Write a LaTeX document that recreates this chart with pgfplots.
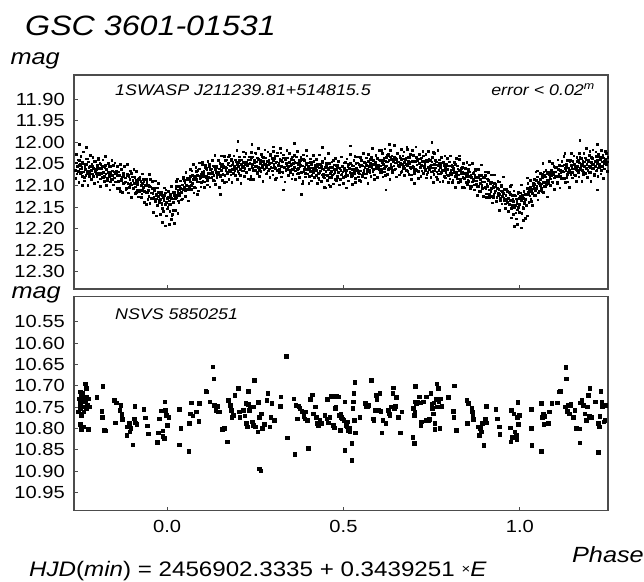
\documentclass[border=0pt]{standalone}
\usepackage{pgfplots}
\pgfplotsset{compat=1.18}
\usepackage{fontspec}
\setmainfont{Liberation Sans}[FakeStretch=1.15]

\newcommand{\fs}[1]{\fontsize{#1}{#1}\selectfont}

\pgfplotsset{
  lc/.style={
    scale only axis, width=534pt, height=214pt,
    xmin=-0.264, xmax=1.25,
    y dir=reverse,
    axis line style={black!70, line width=1.1pt},
    tick style={black!70, line width=0.8pt},
    tick align=inside, major tick length=4pt,
    xtick pos=bottom, ytick pos=left,
    xtick={0,0.5,1},
    /pgf/number format/assume math mode=true,
    yticklabel style={font=\fs{17.5}, inner sep=0pt, xshift=-9pt,
      /pgf/number format/.cd, fixed, fixed zerofill, precision=2},
    xticklabel style={font=\fs{17.5}, inner sep=0pt, yshift=-9pt,
      /pgf/number format/.cd, fixed, fixed zerofill, precision=1},
  }
}

\begin{document}
\begin{tikzpicture}
\path[use as bounding box] (0,0) rectangle (644pt,-581pt);

% ---- 1SWASP light curve ----
\begin{axis}[lc, at={(74pt,-75pt)}, anchor=north west,
  ymin=11.844, ymax=12.340,
  ytick={11.90,11.95,12.00,12.05,12.10,12.15,12.20,12.25,12.30},
  xticklabels={}]
% first half of the points
\addplot[only marks, mark=square*, mark size=0.85pt, black] coordinates {
(-0.260,12.064) (-0.258,12.047) (-0.256,12.073) (-0.254,12.056) (-0.252,12.067) (-0.250,12.041) (-0.248,12.061) (-0.246,12.051) (-0.244,12.070) (-0.242,12.058)
(-0.240,12.046) (-0.238,12.068) (-0.236,12.081) (-0.234,12.055) (-0.232,12.062) (-0.230,12.051) (-0.228,12.071) (-0.226,12.038) (-0.224,12.067) (-0.222,12.057)
(-0.220,12.079) (-0.218,12.055) (-0.216,12.064) (-0.214,12.050) (-0.212,12.073) (-0.210,12.059) (-0.208,12.095) (-0.206,12.044) (-0.204,12.067) (-0.202,12.062)
(-0.200,12.079) (-0.198,12.056) (-0.196,12.039) (-0.194,12.071) (-0.192,12.060) (-0.190,12.084) (-0.188,12.051) (-0.186,12.072) (-0.184,12.055) (-0.182,12.081)
(-0.180,12.068) (-0.178,12.079) (-0.176,12.053) (-0.174,12.073) (-0.172,12.063) (-0.170,12.082) (-0.168,12.070) (-0.166,12.056) (-0.164,12.078) (-0.162,12.091)
(-0.160,12.070) (-0.158,12.077) (-0.156,12.066) (-0.154,12.086) (-0.152,12.053) (-0.150,12.082) (-0.148,12.072) (-0.146,12.091) (-0.144,12.067) (-0.142,12.076)
(-0.140,12.068) (-0.138,12.091) (-0.136,12.077) (-0.134,12.113) (-0.132,12.062) (-0.130,12.085) (-0.128,12.080) (-0.126,12.094) (-0.124,12.071) (-0.122,12.054)
(-0.120,12.093) (-0.118,12.082) (-0.116,12.106) (-0.114,12.073) (-0.112,12.094) (-0.110,12.077) (-0.108,12.103) (-0.106,12.086) (-0.104,12.097) (-0.102,12.071)
(-0.100,12.098) (-0.098,12.088) (-0.096,12.107) (-0.094,12.095) (-0.092,12.081) (-0.090,12.103) (-0.088,12.116) (-0.086,12.090) (-0.084,12.097) (-0.082,12.086)
(-0.080,12.114) (-0.078,12.081) (-0.076,12.110) (-0.074,12.100) (-0.072,12.119) (-0.070,12.095) (-0.068,12.104) (-0.066,12.090) (-0.064,12.113) (-0.062,12.099)
(-0.060,12.144) (-0.058,12.093) (-0.056,12.116) (-0.054,12.111) (-0.052,12.125) (-0.050,12.102) (-0.048,12.085) (-0.046,12.117) (-0.044,12.106) (-0.042,12.130)
(-0.040,12.107) (-0.038,12.128) (-0.036,12.111) (-0.034,12.137) (-0.032,12.120) (-0.030,12.131) (-0.028,12.105) (-0.026,12.125) (-0.024,12.115) (-0.022,12.134)
(-0.020,12.132) (-0.018,12.118) (-0.016,12.140) (-0.014,12.153) (-0.012,12.127) (-0.010,12.134) (-0.008,12.123) (-0.006,12.143) (-0.004,12.110) (-0.002,12.139)
(0.000,12.131) (0.002,12.150) (0.004,12.126) (0.006,12.135) (0.008,12.121) (0.010,12.144) (0.012,12.130) (0.014,12.166) (0.016,12.115) (0.018,12.138)
(0.020,12.116) (0.022,12.130) (0.024,12.107) (0.026,12.090) (0.028,12.122) (0.030,12.111) (0.032,12.135) (0.034,12.102) (0.036,12.123) (0.038,12.106)
(0.040,12.115) (0.042,12.098) (0.044,12.109) (0.046,12.083) (0.048,12.103) (0.050,12.093) (0.052,12.112) (0.054,12.100) (0.056,12.086) (0.058,12.108)
(0.060,12.109) (0.062,12.083) (0.064,12.090) (0.066,12.079) (0.068,12.099) (0.070,12.066) (0.072,12.095) (0.074,12.085) (0.076,12.104) (0.078,12.080)
(0.080,12.081) (0.082,12.067) (0.084,12.090) (0.086,12.076) (0.088,12.112) (0.090,12.061) (0.092,12.084) (0.094,12.079) (0.096,12.093) (0.098,12.070)
(0.100,12.046) (0.102,12.078) (0.104,12.067) (0.106,12.091) (0.108,12.058) (0.110,12.079) (0.112,12.062) (0.114,12.088) (0.116,12.071) (0.118,12.082)
(0.120,12.051) (0.122,12.071) (0.124,12.061) (0.126,12.080) (0.128,12.068) (0.130,12.054) (0.132,12.076) (0.134,12.089) (0.136,12.063) (0.138,12.070)
(0.140,12.055) (0.142,12.075) (0.144,12.042) (0.146,12.071) (0.148,12.061) (0.150,12.080) (0.152,12.056) (0.154,12.065) (0.156,12.051) (0.158,12.074)
(0.160,12.056) (0.162,12.092) (0.164,12.041) (0.166,12.064) (0.168,12.059) (0.170,12.073) (0.172,12.050) (0.174,12.033) (0.176,12.065) (0.178,12.054)
(0.180,12.075) (0.182,12.042) (0.184,12.063) (0.186,12.046) (0.188,12.072) (0.190,12.055) (0.192,12.066) (0.194,12.040) (0.196,12.060) (0.198,12.050)
(0.200,12.067) (0.202,12.055) (0.204,12.041) (0.206,12.063) (0.208,12.076) (0.210,12.050) (0.212,12.057) (0.214,12.046) (0.216,12.066) (0.218,12.033)
(0.220,12.060) (0.222,12.050) (0.224,12.069) (0.226,12.045) (0.228,12.054) (0.230,12.040) (0.232,12.063) (0.234,12.049) (0.236,12.085) (0.238,12.034)
(0.240,12.055) (0.242,12.050) (0.244,12.064) (0.246,12.041) (0.248,12.024) (0.250,12.056) (0.252,12.045) (0.254,12.069) (0.256,12.036) (0.258,12.057)
(0.260,12.039) (0.262,12.065) (0.264,12.048) (0.266,12.059) (0.268,12.033) (0.270,12.053) (0.272,12.043) (0.274,12.062) (0.276,12.050) (0.278,12.036)
(0.280,12.058) (0.282,12.071) (0.284,12.045) (0.286,12.052) (0.288,12.041) (0.290,12.061) (0.292,12.028) (0.294,12.057) (0.296,12.047) (0.298,12.066)
(0.300,12.042) (0.302,12.051) (0.304,12.037) (0.306,12.060) (0.308,12.046) (0.310,12.082) (0.312,12.031) (0.314,12.054) (0.316,12.049) (0.318,12.063)
(0.320,12.041) (0.322,12.024) (0.324,12.056) (0.326,12.045) (0.328,12.069) (0.330,12.036) (0.332,12.057) (0.334,12.040) (0.336,12.066) (0.338,12.049)
(0.340,12.062) (0.342,12.036) (0.344,12.056) (0.346,12.046) (0.348,12.065) (0.350,12.053) (0.352,12.039) (0.354,12.061) (0.356,12.074) (0.358,12.048)
(0.360,12.057) (0.362,12.046) (0.364,12.066) (0.366,12.033) (0.368,12.062) (0.370,12.052) (0.372,12.071) (0.374,12.047) (0.376,12.056) (0.378,12.042)
(0.380,12.068) (0.382,12.054) (0.384,12.090) (0.386,12.039) (0.388,12.062) (0.390,12.057) (0.392,12.071) (0.394,12.048) (0.396,12.031) (0.398,12.063)
(0.400,12.055) (0.402,12.079) (0.404,12.046) (0.406,12.067) (0.408,12.050) (0.410,12.076) (0.412,12.059) (0.414,12.070) (0.416,12.044) (0.418,12.064)
(0.420,12.057) (0.422,12.076) (0.424,12.064) (0.426,12.050) (0.428,12.072) (0.430,12.085) (0.432,12.059) (0.434,12.066) (0.436,12.055) (0.438,12.075)
(0.440,12.044) (0.442,12.073) (0.444,12.063) (0.446,12.082) (0.448,12.058) (0.450,12.067) (0.452,12.053) (0.454,12.076) (0.456,12.062) (0.458,12.098)
(0.460,12.049) (0.462,12.072) (0.464,12.067) (0.466,12.081) (0.468,12.058) (0.470,12.041) (0.472,12.073) (0.474,12.062) (0.476,12.086) (0.478,12.053)
(0.480,12.062) (0.482,12.079) (0.484,12.053) (0.486,12.070) (0.488,12.059) (0.490,12.085) (0.492,12.065) (0.494,12.075) (0.496,12.056) (0.498,12.068)
(0.500,12.081) (0.502,12.059) (0.504,12.046) (0.506,12.072) (0.508,12.065) (0.510,12.076) (0.512,12.056) (0.514,12.089) (0.516,12.060) (0.518,12.070)
(0.520,12.048) (0.522,12.072) (0.524,12.063) (0.526,12.077) (0.528,12.054) (0.530,12.068) (0.532,12.032) (0.534,12.083) (0.536,12.060) (0.538,12.065)
(0.540,12.047) (0.542,12.070) (0.544,12.087) (0.546,12.055) (0.548,12.066) (0.550,12.042) (0.552,12.075) (0.554,12.054) (0.556,12.071) (0.558,12.045)
(0.560,12.058) (0.562,12.047) (0.564,12.073) (0.566,12.053) (0.568,12.063) (0.570,12.044) (0.572,12.056) (0.574,12.070) (0.576,12.048) (0.578,12.035)
(0.580,12.058) (0.582,12.051) (0.584,12.062) (0.586,12.042) (0.588,12.075) (0.590,12.046) (0.592,12.056) (0.594,12.037) (0.596,12.061) (0.598,12.052)
(0.600,12.063) (0.602,12.040) (0.604,12.054) (0.606,12.018) (0.608,12.069) (0.610,12.046) (0.612,12.051) (0.614,12.037) (0.616,12.060) (0.618,12.077)
(0.620,12.043) (0.622,12.054) (0.624,12.030) (0.626,12.063) (0.628,12.042) (0.630,12.059) (0.632,12.033) (0.634,12.050) (0.636,12.039) (0.638,12.065)
(0.640,12.044) (0.642,12.054) (0.644,12.035) (0.646,12.047) (0.648,12.061) (0.650,12.039) (0.652,12.026) (0.654,12.052) (0.656,12.045) (0.658,12.056)
(0.660,12.036) (0.662,12.069) (0.664,12.040) (0.666,12.050) (0.668,12.031) (0.670,12.055) (0.672,12.046) (0.674,12.060) (0.676,12.037) (0.678,12.051)
(0.680,12.016) (0.682,12.067) (0.684,12.044) (0.686,12.049) (0.688,12.035) (0.690,12.058) (0.692,12.075) (0.694,12.043) (0.696,12.054) (0.698,12.030)
(0.700,12.065) (0.702,12.044) (0.704,12.061) (0.706,12.035) (0.708,12.052) (0.710,12.041) (0.712,12.067) (0.714,12.047) (0.716,12.057) (0.718,12.038)
(0.720,12.052) (0.722,12.066) (0.724,12.044) (0.726,12.031) (0.728,12.057) (0.730,12.050) (0.732,12.061) (0.734,12.041) (0.736,12.074) (0.738,12.045)
(0.740,12.058) (0.742,12.039) (0.744,12.063) (0.746,12.054) (0.748,12.068) (0.750,12.045) (0.752,12.059) (0.754,12.023) (0.756,12.074) (0.758,12.051)
(0.760,12.059) (0.762,12.045) (0.764,12.068) (0.766,12.085) (0.768,12.053) (0.770,12.064) (0.772,12.040) (0.774,12.073) (0.776,12.052) (0.778,12.069)
(0.780,12.047) (0.782,12.064) (0.784,12.053) (0.786,12.079) (0.788,12.059) (0.790,12.069) (0.792,12.050) (0.794,12.062) (0.796,12.076) (0.798,12.054)
(0.800,12.045) (0.802,12.071) (0.804,12.064) (0.806,12.075) (0.808,12.055) (0.810,12.088) (0.812,12.059) (0.814,12.069) (0.816,12.050) (0.818,12.074)
(0.820,12.070) (0.822,12.084) (0.824,12.061) (0.826,12.075) (0.828,12.039) (0.830,12.090) (0.832,12.067) (0.834,12.072) (0.836,12.058) (0.838,12.081)
(0.840,12.104) (0.842,12.072) (0.844,12.083) (0.846,12.059) (0.848,12.092) (0.850,12.071) (0.852,12.088) (0.854,12.062) (0.856,12.079) (0.858,12.068)
(0.860,12.101) (0.862,12.081) (0.864,12.091) (0.866,12.072) (0.868,12.084) (0.870,12.098) (0.872,12.076) (0.874,12.063) (0.876,12.089) (0.878,12.082)
(0.880,12.101) (0.882,12.081) (0.884,12.114) (0.886,12.085) (0.888,12.095) (0.890,12.076) (0.892,12.100) (0.894,12.091) (0.896,12.105) (0.898,12.082)
(0.900,12.104) (0.902,12.068) (0.904,12.119) (0.906,12.096) (0.908,12.101) (0.910,12.087) (0.912,12.110) (0.914,12.127) (0.916,12.095) (0.918,12.106)
(0.920,12.092) (0.922,12.125) (0.924,12.104) (0.926,12.121) (0.928,12.095) (0.930,12.112) (0.932,12.101) (0.934,12.127) (0.936,12.107) (0.938,12.117)
(0.940,12.108) (0.942,12.120) (0.944,12.134) (0.946,12.112) (0.948,12.099) (0.950,12.125) (0.952,12.118) (0.954,12.129) (0.956,12.109) (0.958,12.142)
(0.960,12.123) (0.962,12.133) (0.964,12.114) (0.966,12.138) (0.968,12.129) (0.970,12.143) (0.972,12.120) (0.974,12.134) (0.976,12.098) (0.978,12.149)
(0.980,12.132) (0.982,12.137) (0.984,12.123) (0.986,12.146) (0.988,12.163) (0.990,12.131) (0.992,12.142) (0.994,12.118) (0.996,12.151) (0.998,12.130)
(1.000,12.143) (1.002,12.117) (1.004,12.134) (1.006,12.123) (1.008,12.149) (1.010,12.129) (1.012,12.139) (1.014,12.120) (1.016,12.132) (1.018,12.146)
(1.020,12.107) (1.022,12.094) (1.024,12.120) (1.026,12.113) (1.028,12.124) (1.030,12.104) (1.032,12.137) (1.034,12.108) (1.036,12.118) (1.038,12.099)
(1.040,12.106) (1.042,12.097) (1.044,12.111) (1.046,12.088) (1.048,12.102) (1.050,12.066) (1.052,12.117) (1.054,12.094) (1.056,12.099) (1.058,12.085)
(1.060,12.096) (1.062,12.113) (1.064,12.081) (1.066,12.092) (1.068,12.068) (1.070,12.101) (1.072,12.080) (1.074,12.097) (1.076,12.071) (1.078,12.088)
(1.080,12.068) (1.082,12.094) (1.084,12.074) (1.086,12.084) (1.088,12.065) (1.090,12.077) (1.092,12.091) (1.094,12.069) (1.096,12.056) (1.098,12.082)
(1.100,12.068) (1.102,12.079) (1.104,12.059) (1.106,12.092) (1.108,12.063) (1.110,12.073) (1.112,12.054) (1.114,12.078) (1.116,12.069) (1.118,12.083)
(1.120,12.054) (1.122,12.068) (1.124,12.032) (1.126,12.083) (1.128,12.060) (1.130,12.065) (1.132,12.051) (1.134,12.074) (1.136,12.091) (1.138,12.059)
(1.140,12.065) (1.142,12.041) (1.144,12.074) (1.146,12.053) (1.148,12.070) (1.150,12.044) (1.152,12.061) (1.154,12.050) (1.156,12.076) (1.158,12.056)
(1.160,12.062) (1.162,12.043) (1.164,12.055) (1.166,12.069) (1.168,12.047) (1.170,12.034) (1.172,12.060) (1.174,12.053) (1.176,12.064) (1.178,12.044)
(1.180,12.074) (1.182,12.045) (1.184,12.055) (1.186,12.036) (1.188,12.060) (1.190,12.051) (1.192,12.065) (1.194,12.042) (1.196,12.056) (1.198,12.020)
(1.200,12.069) (1.202,12.046) (1.204,12.051) (1.206,12.037) (1.208,12.060) (1.210,12.077) (1.212,12.045) (1.214,12.056) (1.216,12.032) (1.218,12.065)
(1.220,12.042) (1.222,12.059) (1.224,12.033) (1.226,12.050) (1.228,12.039) (1.230,12.065) (1.232,12.045) (1.234,12.055) (1.236,12.036) (1.238,12.048)
(1.240,12.061) (1.242,12.039) (1.244,12.026) (1.246,12.052) (1.248,12.045)
(-0.013,12.185) (-0.006,12.193) (0.005,12.190) (0.011,12.178) (0.021,12.187) (-0.030,12.170) (0.030,12.165)
(0.985,12.195) (0.992,12.190) (1.003,12.198) (1.010,12.180) (0.975,12.175) (1.020,12.170)
(0.240,12.005) (0.200,11.998) (0.300,12.010) (0.360,12.002) (0.440,12.012) (0.520,12.008) (0.630,12.005)
(0.750,12.000) (1.170,11.995) (1.220,12.005) (-0.250,12.005) (-0.230,12.012)
(0.150,12.120) (0.330,12.110) (0.450,12.105) (0.620,12.110) (1.220,12.110) (-0.240,12.100) (0.700,12.095) (0.380,12.120)
};
% second half of the points (wider scatter)
\addplot[only marks, mark=square*, mark size=0.85pt, black] coordinates {
(-0.259,12.083) (-0.257,12.028) (-0.255,12.066) (-0.253,12.040) (-0.251,12.093) (-0.249,12.053) (-0.247,12.072) (-0.245,12.032) (-0.243,12.061) (-0.241,12.078)
(-0.239,12.048) (-0.237,12.022) (-0.235,12.089) (-0.233,12.051) (-0.231,12.077) (-0.229,12.038) (-0.227,12.066) (-0.225,12.100) (-0.223,12.045) (-0.221,12.071)
(-0.219,12.030) (-0.217,12.064) (-0.215,12.086) (-0.213,12.056) (-0.211,12.035) (-0.209,12.079) (-0.207,12.061) (-0.205,12.094) (-0.203,12.043) (-0.201,12.072)
(-0.199,12.053) (-0.197,12.091) (-0.195,12.036) (-0.193,12.074) (-0.191,12.048) (-0.189,12.101) (-0.187,12.061) (-0.185,12.080) (-0.183,12.040) (-0.181,12.069)
(-0.179,12.090) (-0.177,12.058) (-0.175,12.032) (-0.173,12.099) (-0.171,12.061) (-0.169,12.087) (-0.167,12.048) (-0.165,12.076) (-0.163,12.110) (-0.161,12.055)
(-0.159,12.086) (-0.157,12.042) (-0.155,12.076) (-0.153,12.098) (-0.151,12.068) (-0.149,12.047) (-0.147,12.091) (-0.145,12.073) (-0.143,12.106) (-0.141,12.055)
(-0.139,12.090) (-0.137,12.068) (-0.135,12.106) (-0.133,12.051) (-0.131,12.089) (-0.129,12.063) (-0.127,12.116) (-0.125,12.076) (-0.123,12.095) (-0.121,12.055)
(-0.119,12.091) (-0.117,12.108) (-0.115,12.076) (-0.113,12.050) (-0.111,12.117) (-0.109,12.079) (-0.107,12.105) (-0.105,12.066) (-0.103,12.094) (-0.101,12.128)
(-0.099,12.080) (-0.097,12.106) (-0.095,12.062) (-0.093,12.096) (-0.091,12.118) (-0.089,12.088) (-0.087,12.067) (-0.085,12.111) (-0.083,12.093) (-0.081,12.126)
(-0.079,12.083) (-0.077,12.112) (-0.075,12.090) (-0.073,12.128) (-0.071,12.073) (-0.069,12.111) (-0.067,12.085) (-0.065,12.138) (-0.063,12.098) (-0.061,12.117)
(-0.059,12.086) (-0.057,12.115) (-0.055,12.132) (-0.053,12.100) (-0.051,12.074) (-0.049,12.141) (-0.047,12.103) (-0.045,12.129) (-0.043,12.090) (-0.041,12.118)
(-0.039,12.162) (-0.037,12.107) (-0.035,12.133) (-0.033,12.089) (-0.031,12.123) (-0.029,12.145) (-0.027,12.115) (-0.025,12.094) (-0.023,12.138) (-0.021,12.120)
(-0.019,12.166) (-0.017,12.115) (-0.015,12.144) (-0.013,12.122) (-0.011,12.160) (-0.009,12.105) (-0.007,12.143) (-0.005,12.117) (-0.003,12.170) (-0.001,12.130)
(0.001,12.154) (0.003,12.114) (0.005,12.143) (0.007,12.160) (0.009,12.128) (0.011,12.102) (0.013,12.169) (0.015,12.131) (0.017,12.157) (0.019,12.118)
(0.021,12.123) (0.023,12.157) (0.025,12.102) (0.027,12.128) (0.029,12.084) (0.031,12.118) (0.033,12.140) (0.035,12.110) (0.037,12.089) (0.039,12.133)
(0.041,12.098) (0.043,12.131) (0.045,12.080) (0.047,12.109) (0.049,12.087) (0.051,12.125) (0.053,12.070) (0.055,12.108) (0.057,12.082) (0.059,12.135)
(0.061,12.083) (0.063,12.102) (0.065,12.062) (0.067,12.091) (0.069,12.108) (0.071,12.076) (0.073,12.050) (0.075,12.117) (0.077,12.079) (0.079,12.105)
(0.081,12.058) (0.083,12.086) (0.085,12.120) (0.087,12.065) (0.089,12.091) (0.091,12.047) (0.093,12.081) (0.095,12.103) (0.097,12.073) (0.099,12.052)
(0.101,12.089) (0.103,12.071) (0.105,12.104) (0.107,12.053) (0.109,12.082) (0.111,12.060) (0.113,12.098) (0.115,12.043) (0.117,12.081) (0.119,12.055)
(0.121,12.103) (0.123,12.063) (0.125,12.082) (0.127,12.042) (0.129,12.071) (0.131,12.088) (0.133,12.056) (0.135,12.030) (0.137,12.097) (0.139,12.059)
(0.141,12.081) (0.143,12.042) (0.145,12.070) (0.147,12.104) (0.149,12.049) (0.151,12.075) (0.153,12.031) (0.155,12.065) (0.157,12.087) (0.159,12.057)
(0.161,12.032) (0.163,12.076) (0.165,12.058) (0.167,12.091) (0.169,12.040) (0.171,12.069) (0.173,12.047) (0.175,12.085) (0.177,12.030) (0.179,12.068)
(0.181,12.039) (0.183,12.092) (0.185,12.052) (0.187,12.071) (0.189,12.031) (0.191,12.060) (0.193,12.077) (0.195,12.045) (0.197,12.019) (0.199,12.086)
(0.201,12.046) (0.203,12.072) (0.205,12.033) (0.207,12.061) (0.209,12.095) (0.211,12.040) (0.213,12.066) (0.215,12.022) (0.217,12.056) (0.219,12.078)
(0.221,12.046) (0.223,12.025) (0.225,12.069) (0.227,12.051) (0.229,12.084) (0.231,12.033) (0.233,12.062) (0.235,12.040) (0.237,12.078) (0.239,12.023)
(0.241,12.059) (0.243,12.033) (0.245,12.086) (0.247,12.046) (0.249,12.065) (0.251,12.025) (0.253,12.054) (0.255,12.071) (0.257,12.039) (0.259,12.013)
(0.261,12.079) (0.263,12.041) (0.265,12.067) (0.267,12.028) (0.269,12.056) (0.271,12.090) (0.273,12.035) (0.275,12.061) (0.277,12.017) (0.279,12.051)
(0.281,12.073) (0.283,12.043) (0.285,12.022) (0.287,12.066) (0.289,12.048) (0.291,12.081) (0.293,12.030) (0.295,12.059) (0.297,12.037) (0.299,12.075)
(0.301,12.020) (0.303,12.058) (0.305,12.032) (0.307,12.085) (0.309,12.045) (0.311,12.064) (0.313,12.024) (0.315,12.053) (0.317,12.070) (0.319,12.038)
(0.321,12.013) (0.323,12.080) (0.325,12.042) (0.327,12.068) (0.329,12.029) (0.331,12.057) (0.333,12.091) (0.335,12.036) (0.337,12.062) (0.339,12.018)
(0.341,12.054) (0.343,12.076) (0.345,12.046) (0.347,12.025) (0.349,12.069) (0.351,12.051) (0.353,12.084) (0.355,12.033) (0.357,12.062) (0.359,12.040)
(0.361,12.030) (0.363,12.085) (0.365,12.047) (0.367,12.073) (0.369,12.020) (0.371,12.060) (0.373,12.041) (0.375,12.081) (0.377,12.052) (0.379,12.035)
(0.381,12.070) (0.383,12.096) (0.385,12.029) (0.387,12.067) (0.389,12.041) (0.391,12.080) (0.393,12.052) (0.395,12.018) (0.397,12.073) (0.399,12.047)
(0.401,12.094) (0.403,12.060) (0.405,12.038) (0.407,12.068) (0.409,12.089) (0.411,12.045) (0.413,12.063) (0.415,12.030) (0.417,12.081) (0.419,12.052)
(0.421,12.077) (0.423,12.039) (0.425,12.094) (0.427,12.056) (0.429,12.082) (0.431,12.029) (0.433,12.069) (0.435,12.050) (0.437,12.090) (0.439,12.061)
(0.441,12.046) (0.443,12.078) (0.445,12.104) (0.447,12.037) (0.449,12.075) (0.451,12.049) (0.453,12.088) (0.455,12.060) (0.457,12.026) (0.459,12.081)
(0.461,12.057) (0.463,12.101) (0.465,12.067) (0.467,12.045) (0.469,12.075) (0.471,12.096) (0.473,12.052) (0.475,12.070) (0.477,12.037) (0.479,12.088)
(0.481,12.059) (0.483,12.081) (0.485,12.043) (0.487,12.098) (0.489,12.060) (0.491,12.086) (0.493,12.033) (0.495,12.073) (0.497,12.054) (0.499,12.094)
(0.501,12.064) (0.503,12.047) (0.505,12.079) (0.507,12.105) (0.509,12.038) (0.511,12.076) (0.513,12.050) (0.515,12.089) (0.517,12.061) (0.519,12.027)
(0.521,12.079) (0.523,12.053) (0.525,12.097) (0.527,12.063) (0.529,12.041) (0.531,12.071) (0.533,12.092) (0.535,12.048) (0.537,12.066) (0.539,12.033)
(0.541,12.080) (0.543,12.051) (0.545,12.073) (0.547,12.035) (0.549,12.090) (0.551,12.052) (0.553,12.078) (0.555,12.025) (0.557,12.065) (0.559,12.046)
(0.561,12.082) (0.563,12.053) (0.565,12.036) (0.567,12.068) (0.569,12.094) (0.571,12.027) (0.573,12.065) (0.575,12.039) (0.577,12.078) (0.579,12.050)
(0.581,12.013) (0.583,12.068) (0.585,12.042) (0.587,12.086) (0.589,12.052) (0.591,12.030) (0.593,12.060) (0.595,12.081) (0.597,12.037) (0.599,12.055)
(0.601,12.019) (0.603,12.070) (0.605,12.041) (0.607,12.063) (0.609,12.025) (0.611,12.080) (0.613,12.042) (0.615,12.068) (0.617,12.015) (0.619,12.055)
(0.621,12.034) (0.623,12.074) (0.625,12.045) (0.627,12.028) (0.629,12.060) (0.631,12.086) (0.633,12.019) (0.635,12.057) (0.637,12.031) (0.639,12.070)
(0.641,12.041) (0.643,12.007) (0.645,12.062) (0.647,12.036) (0.649,12.080) (0.651,12.046) (0.653,12.024) (0.655,12.054) (0.657,12.075) (0.659,12.031)
(0.661,12.049) (0.663,12.016) (0.665,12.067) (0.667,12.038) (0.669,12.060) (0.671,12.022) (0.673,12.077) (0.675,12.039) (0.677,12.065) (0.679,12.012)
(0.681,12.053) (0.683,12.034) (0.685,12.074) (0.687,12.045) (0.689,12.028) (0.691,12.060) (0.693,12.086) (0.695,12.019) (0.697,12.057) (0.699,12.031)
(0.701,12.072) (0.703,12.044) (0.705,12.010) (0.707,12.065) (0.709,12.039) (0.711,12.083) (0.713,12.049) (0.715,12.027) (0.717,12.057) (0.719,12.078)
(0.721,12.036) (0.723,12.054) (0.725,12.021) (0.727,12.072) (0.729,12.043) (0.731,12.065) (0.733,12.027) (0.735,12.082) (0.737,12.044) (0.739,12.070)
(0.741,12.020) (0.743,12.060) (0.745,12.041) (0.747,12.081) (0.749,12.052) (0.751,12.035) (0.753,12.067) (0.755,12.093) (0.757,12.026) (0.759,12.064)
(0.761,12.041) (0.763,12.080) (0.765,12.052) (0.767,12.018) (0.769,12.073) (0.771,12.047) (0.773,12.091) (0.775,12.057) (0.777,12.035) (0.779,12.065)
(0.781,12.090) (0.783,12.046) (0.785,12.064) (0.787,12.031) (0.789,12.082) (0.791,12.053) (0.793,12.075) (0.795,12.037) (0.797,12.092) (0.799,12.054)
(0.801,12.084) (0.803,12.031) (0.805,12.071) (0.807,12.052) (0.809,12.092) (0.811,12.063) (0.813,12.046) (0.815,12.078) (0.817,12.104) (0.819,12.037)
(0.821,12.080) (0.823,12.054) (0.825,12.093) (0.827,12.065) (0.829,12.031) (0.831,12.086) (0.833,12.060) (0.835,12.104) (0.837,12.070) (0.839,12.048)
(0.841,12.084) (0.843,12.105) (0.845,12.061) (0.847,12.079) (0.849,12.046) (0.851,12.097) (0.853,12.068) (0.855,12.090) (0.857,12.052) (0.859,12.107)
(0.861,12.076) (0.863,12.102) (0.865,12.049) (0.867,12.089) (0.869,12.070) (0.871,12.110) (0.873,12.081) (0.875,12.064) (0.877,12.096) (0.879,12.122)
(0.881,12.063) (0.883,12.101) (0.885,12.075) (0.887,12.114) (0.889,12.086) (0.891,12.052) (0.893,12.107) (0.895,12.081) (0.897,12.125) (0.899,12.091)
(0.901,12.077) (0.903,12.107) (0.905,12.128) (0.907,12.084) (0.909,12.102) (0.911,12.069) (0.913,12.120) (0.915,12.091) (0.917,12.113) (0.919,12.075)
(0.921,12.140) (0.923,12.102) (0.925,12.128) (0.927,12.075) (0.929,12.115) (0.931,12.096) (0.933,12.136) (0.935,12.107) (0.937,12.090) (0.939,12.122)
(0.941,12.158) (0.943,12.091) (0.945,12.129) (0.947,12.103) (0.949,12.142) (0.951,12.114) (0.953,12.080) (0.955,12.135) (0.957,12.109) (0.959,12.153)
(0.961,12.131) (0.963,12.109) (0.965,12.139) (0.967,12.160) (0.969,12.116) (0.971,12.134) (0.973,12.101) (0.975,12.152) (0.977,12.123) (0.979,12.145)
(0.981,12.167) (0.983,12.112) (0.985,12.150) (0.987,12.124) (0.989,12.177) (0.991,12.137) (0.993,12.156) (0.995,12.116) (0.997,12.145) (0.999,12.162)
(1.001,12.124) (1.003,12.098) (1.005,12.165) (1.007,12.127) (1.009,12.153) (1.011,12.114) (1.013,12.142) (1.015,12.176) (1.017,12.121) (1.019,12.147)
(1.021,12.082) (1.023,12.116) (1.025,12.138) (1.027,12.108) (1.029,12.087) (1.031,12.131) (1.033,12.113) (1.035,12.146) (1.037,12.095) (1.039,12.124)
(1.041,12.085) (1.043,12.123) (1.045,12.068) (1.047,12.106) (1.049,12.080) (1.051,12.133) (1.053,12.093) (1.055,12.112) (1.057,12.072) (1.059,12.101)
(1.061,12.106) (1.063,12.074) (1.065,12.048) (1.067,12.115) (1.069,12.077) (1.071,12.103) (1.073,12.064) (1.075,12.092) (1.077,12.126) (1.079,12.071)
(1.081,12.088) (1.083,12.044) (1.085,12.078) (1.087,12.100) (1.089,12.070) (1.091,12.049) (1.093,12.093) (1.095,12.075) (1.097,12.108) (1.099,12.057)
(1.101,12.079) (1.103,12.057) (1.105,12.095) (1.107,12.040) (1.109,12.078) (1.111,12.052) (1.113,12.105) (1.115,12.065) (1.117,12.084) (1.119,12.044)
(1.121,12.067) (1.123,12.084) (1.125,12.052) (1.127,12.026) (1.129,12.093) (1.131,12.055) (1.133,12.081) (1.135,12.042) (1.137,12.070) (1.139,12.104)
(1.141,12.044) (1.143,12.070) (1.145,12.026) (1.147,12.060) (1.149,12.082) (1.151,12.052) (1.153,12.031) (1.155,12.075) (1.157,12.057) (1.159,12.090)
(1.161,12.035) (1.163,12.064) (1.165,12.042) (1.167,12.080) (1.169,12.025) (1.171,12.063) (1.173,12.037) (1.175,12.090) (1.177,12.050) (1.179,12.069)
(1.181,12.026) (1.183,12.055) (1.185,12.072) (1.187,12.040) (1.189,12.014) (1.191,12.081) (1.193,12.043) (1.195,12.069) (1.197,12.030) (1.199,12.058)
(1.201,12.090) (1.203,12.035) (1.205,12.061) (1.207,12.017) (1.209,12.051) (1.211,12.073) (1.213,12.043) (1.215,12.022) (1.217,12.066) (1.219,12.048)
(1.221,12.079) (1.223,12.028) (1.225,12.057) (1.227,12.035) (1.229,12.073) (1.231,12.018) (1.233,12.056) (1.235,12.030) (1.237,12.083) (1.239,12.043)
(1.241,12.061) (1.243,12.021) (1.245,12.050) (1.247,12.067) (1.249,12.035)
};
\end{axis}

% ---- NSVS light curve ----
\begin{axis}[lc, at={(74pt,-296.7pt)}, anchor=north west,
  ymin=10.491, ymax=10.993,
  ytick={10.55,10.60,10.65,10.70,10.75,10.80,10.85,10.90,10.95}]
\addplot[only marks, mark=square*, mark size=1.8pt, black] coordinates {
(-0.247,10.714) (-0.243,10.722) (-0.249,10.730) (-0.238,10.734) (-0.246,10.741) (-0.233,10.737) (-0.229,10.726) (-0.224,10.730)
(-0.240,10.749) (-0.247,10.753) (-0.236,10.761) (-0.230,10.753) (-0.227,10.745) (-0.243,10.765) (-0.233,10.695) (-0.230,10.706)
(-0.252,10.761) (-0.243,10.769) (-0.247,10.790) (-0.238,10.796) (-0.243,10.802) (-0.224,10.802) (-0.221,10.749) (-0.240,10.718)
(-0.200,10.727) (-0.183,10.701) (-0.186,10.759) (-0.184,10.773) (-0.179,10.804) (-0.176,10.805)
(-0.150,10.734) (-0.145,10.740) (-0.148,10.787) (-0.132,10.745) (-0.134,10.757) (-0.129,10.766) (-0.127,10.779) (-0.113,10.796)
(-0.115,10.816) (-0.108,10.788) (-0.103,10.800) (-0.106,10.808) (-0.098,10.838) (-0.094,10.777) (-0.092,10.748) (-0.090,10.787)
(-0.086,10.790) (-0.066,10.755) (-0.062,10.775) (-0.057,10.794) (-0.054,10.812) (-0.028,10.832) (-0.025,10.810) (-0.023,10.777)
(-0.017,10.758) (-0.013,10.805) (-0.012,10.818) (-0.009,10.823) (-0.007,10.737) (-0.005,10.757) (-0.002,10.769) (0.001,10.792)
(0.004,10.773) (0.034,10.755) (0.034,10.838) (0.038,10.800) (0.061,10.853) (0.063,10.788) (0.066,10.765) (0.069,10.740)
(0.072,10.770) (0.083,10.761) (0.090,10.783) (0.091,10.741) (0.109,10.712) (0.112,10.714) (0.121,10.737) (0.129,10.655)
(0.132,10.683) (0.133,10.745) (0.138,10.757) (0.143,10.761) (0.142,10.748) (0.148,10.761) (0.157,10.802) (0.162,10.800)
(0.171,10.831) (0.174,10.734) (0.178,10.745) (0.181,10.757) (0.183,10.773) (0.188,10.769) (0.192,10.722) (0.201,10.705)
(0.204,10.761) (0.206,10.773) (0.216,10.757) (0.220,10.770) (0.223,10.741) (0.225,10.788) (0.227,10.796) (0.230,10.743)
(0.233,10.757) (0.230,10.712) (0.236,10.749) (0.242,10.784) (0.244,10.792) (0.246,10.749) (0.247,10.687) (0.249,10.796)
(0.257,10.808) (0.259,10.739) (0.261,10.773) (0.261,10.894) (0.265,10.899) (0.266,10.765) (0.269,10.800) (0.275,10.790)
(0.282,10.734) (0.285,10.718) (0.291,10.796) (0.296,10.741) (0.294,10.773) (0.304,10.780) (0.320,10.748) (0.322,10.726)
(0.338,10.630) (0.340,10.822) (0.359,10.730) (0.362,10.860) (0.364,10.745) (0.369,10.777) (0.373,10.748) (0.376,10.753)
(0.381,10.759) (0.387,10.771) (0.390,10.777) (0.393,10.761) (0.397,10.780) (0.400,10.847) (0.405,10.732) (0.411,10.721)
(0.414,10.765) (0.419,10.749) (0.422,10.773) (0.426,10.788) (0.428,10.792)
(0.433,10.780) (0.438,10.788) (0.447,10.769) (0.452,10.777) (0.454,10.732) (0.457,10.787) (0.461,10.773) (0.466,10.724)
(0.471,10.792) (0.473,10.798) (0.476,10.753) (0.478,10.749) (0.480,10.724) (0.485,10.726) (0.488,10.769) (0.490,10.804)
(0.492,10.765) (0.494,10.773) (0.497,10.777) (0.501,10.780) (0.504,10.851) (0.504,10.737) (0.507,10.792) (0.509,10.796)
(0.510,10.784) (0.513,10.804) (0.516,10.800) (0.518,10.808) (0.523,10.834) (0.523,10.874) (0.526,10.753) (0.528,10.737)
(0.529,10.718) (0.530,10.780) (0.532,10.691) (0.533,10.810) (0.546,10.773) (0.561,10.741) (0.563,10.748) (0.567,10.749)
(0.571,10.745) (0.579,10.687) (0.584,10.777) (0.586,10.780) (0.589,10.757) (0.592,10.722) (0.594,10.732) (0.598,10.757)
(0.603,10.718) (0.605,10.759) (0.608,10.810) (0.611,10.780) (0.620,10.788) (0.627,10.757) (0.630,10.765) (0.631,10.769)
(0.636,10.749) (0.639,10.718) (0.641,10.704) (0.643,10.753) (0.646,10.748) (0.650,10.727) (0.655,10.774) (0.660,10.810)
(0.665,10.761) (0.696,10.820) (0.698,10.753) (0.700,10.769) (0.701,10.834) (0.702,10.761) (0.703,10.737) (0.704,10.701)
(0.707,10.741) (0.709,10.737) (0.714,10.726) (0.717,10.740) (0.719,10.792) (0.721,10.784) (0.726,10.737) (0.734,10.726)
(0.735,10.780) (0.740,10.782) (0.743,10.779) (0.747,10.718) (0.750,10.743) (0.752,10.753) (0.754,10.765) (0.756,10.740)
(0.759,10.788) (0.759,10.802) (0.762,10.732) (0.764,10.695) (0.766,10.749) (0.768,10.706) (0.770,10.737) (0.773,10.800)
(0.775,10.730) (0.778,10.748) (0.797,10.727) (0.811,10.759) (0.813,10.773) (0.814,10.700) (0.819,10.804) (0.849,10.734)
(0.851,10.788) (0.854,10.741) (0.863,10.753) (0.865,10.761) (0.866,10.769) (0.868,10.779) (0.882,10.796) (0.885,10.816)
(0.888,10.800) (0.891,10.808) (0.894,10.788) (0.898,10.839) (0.901,10.779) (0.904,10.748) (0.905,10.787) (0.932,10.755)
(0.936,10.777) (0.941,10.796) (0.943,10.813) (0.972,10.798) (0.974,10.831) (0.976,10.757) (0.979,10.820) (0.983,10.765)
(0.985,10.808) (0.989,10.816) (0.991,10.826) (0.992,10.773) (0.994,10.738) (0.996,10.790) (0.998,10.769) (1.032,10.755)
(1.033,10.800) (1.034,10.839) (1.061,10.741) (1.061,10.853) (1.063,10.774) (1.066,10.765) (1.068,10.790) (1.071,10.771)
(1.080,10.788) (1.083,10.761) (1.090,10.741) (1.106,10.740) (1.112,10.714) (1.115,10.712) (1.128,10.749) (1.130,10.657)
(1.132,10.683) (1.134,10.759) (1.136,10.745) (1.140,10.765) (1.142,10.745) (1.144,10.743) (1.151,10.773) (1.156,10.757)
(1.159,10.800) (1.168,10.801) (1.170,10.833) (1.172,10.740) (1.175,10.734) (1.180,10.745) (1.184,10.765) (1.189,10.780)
(1.191,10.749) (1.194,10.722) (1.197,10.770) (1.198,10.705) (1.203,10.773) (1.213,10.737) (1.223,10.856) (1.223,10.788)
(1.225,10.796) (1.227,10.771) (1.229,10.712) (1.232,10.738) (1.234,10.748) (1.238,10.784) (1.241,10.780) (1.244,10.746)
};
\end{axis}

% ---- texts ----
\node[anchor=base west, inner sep=0pt, font=\fs{28}\itshape] at (25pt,-35pt) {GSC 3601-01531};
\node[anchor=base east, inner sep=0pt, font=\fs{22}\itshape] at (60pt,-64pt) {mag};
\node[anchor=base east, inner sep=0pt, font=\fs{22}\itshape] at (61pt,-298pt) {mag};
\node[anchor=base west, inner sep=0pt, font=\fs{15.5}\itshape] at (115pt,-95pt) {1SWASP J211239.81+514815.5};
\node[anchor=base east, inner sep=0pt, font=\fs{15.5}\itshape] at (595pt,-95pt) {error \textless{} 0.02\textsuperscript{m}};
\node[anchor=base west, inner sep=0pt, font=\fs{15.5}\itshape] at (115pt,-319pt) {NSVS 5850251};
\node[anchor=base east, inner sep=0pt, font=\fs{22}\itshape] at (644pt,-562pt) {Phase};
\node[anchor=base west, inner sep=0pt, font=\fs{21}] at (29pt,-576pt)
  {\textit{HJD}(\textit{min}) = 2456902.3335 + 0.3439251 \raisebox{0.25ex}{\fs{13}×}\textit{E}};
\end{tikzpicture}
\end{document}
